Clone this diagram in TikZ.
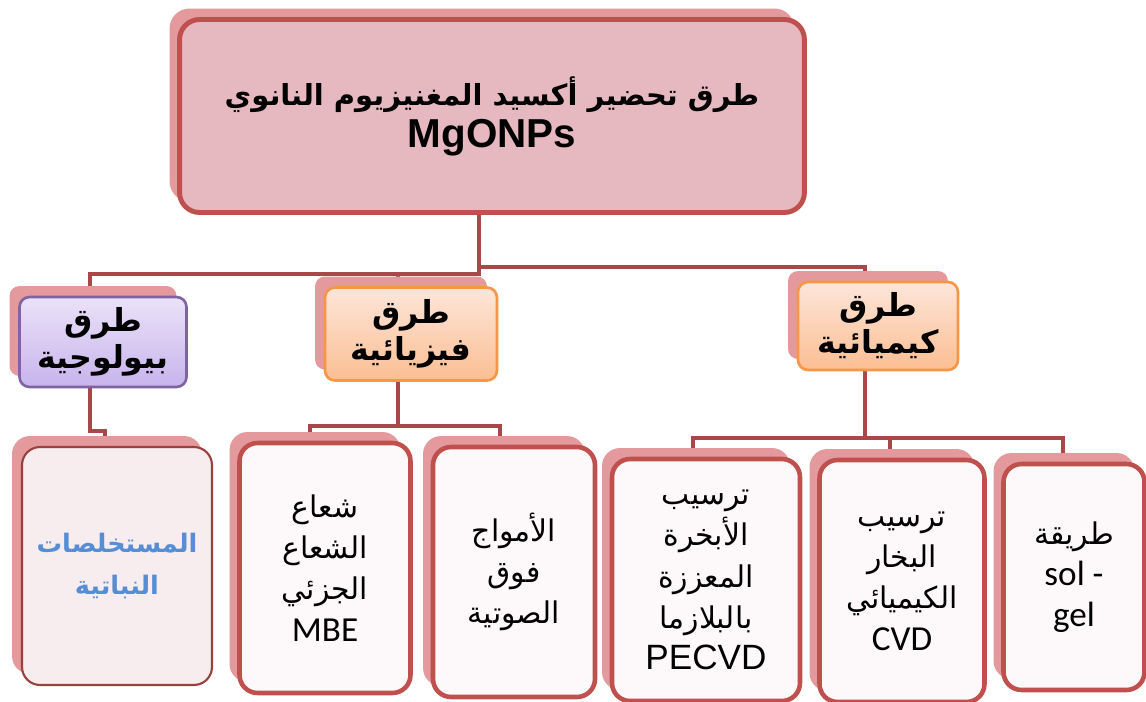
\documentclass[tikz,border=0pt]{standalone}
\usepackage{fontspec}
\setmainfont{Liberation Sans}
\newfontfamily\arabicfont[Script=Arabic]{DejaVu Sans}
\newfontfamily\calibrifont{Carlito}
\TeXXeTstate=1
\usepackage{tikz}
\usetikzlibrary{shadows, backgrounds}

\definecolor{boxred}{HTML}{C0504D}
\definecolor{linkred}{HTML}{A94749}
\definecolor{rootfill}{HTML}{E6B8C0}
\definecolor{shadowpink}{HTML}{E49A9D}
\definecolor{techfill}{HTML}{FDF9FA}
\definecolor{plantfill}{HTML}{F7ECEE}
\definecolor{plantblue}{HTML}{558ED5}
\definecolor{orangeline}{HTML}{F79646}
\definecolor{peachtop}{HTML}{FDE6DA}
\definecolor{peachbot}{HTML}{FBBE92}
\definecolor{purpleline}{HTML}{8064A2}
\definecolor{lavtop}{HTML}{EAE2F9}
\definecolor{lavbot}{HTML}{C8B4EC}

\newcommand{\artxt}[1]{{\arabicfont\beginR #1\endR}}
\newcommand{\lattxt}[1]{{\fontsize{20}{23.5}\selectfont #1}}

\begin{document}
\begin{tikzpicture}[x=0.02cm, y=-0.02cm,
        backglow/.style={general shadow={fill=shadowpink, shadow xshift=-0.2cm, shadow yshift=0.22cm}},
        rootbox/.style={draw=boxred, line width=2.8pt, fill=rootfill, rounded corners=0.4cm, backglow, align=center, font=\bfseries\fontsize{16.5}{24}\selectfont},
        methodbox/.style={draw=orangeline, line width=1.5pt, rounded corners=0.2cm, top color=peachtop, bottom color=peachbot, backglow, align=center, font=\bfseries\fontsize{18}{21}\selectfont},
        biobox/.style={methodbox, draw=purpleline, top color=lavtop, bottom color=lavbot},
        techbox/.style={draw=boxred, line width=2.6pt, fill=techfill, rounded corners=0.36cm, backglow, align=center, font=\fontsize{17}{23.5}\selectfont},
        plantbox/.style={techbox, draw=boxred!80!black, line width=1.2pt, fill=plantfill, text=plantblue, font=\bfseries\fontsize{14.5}{24}\selectfont},
        link/.style={draw=linkred, line width=2.3pt}
    ]
    \useasboundingbox (0,0) rectangle (1146,702);

    \node[rootbox, minimum width=12.5cm, minimum height=3.86cm] (root) at (492,116) {\artxt{طرق تحضير أكسيد المغنيزيوم النانوي}\\{\fontsize{23}{24}\selectfont MgONPs}};

    \node[biobox, minimum width=3.34cm, minimum height=1.8cm] (bio) at (103,342) {\artxt{طرق}\\\artxt{بيولوجية}};
    \node[methodbox, minimum width=3.44cm, minimum height=1.86cm] (phys) at (411,334) {\artxt{طرق}\\\artxt{فيزيائية}};
    \node[methodbox, minimum width=3.2cm, minimum height=1.76cm] (chem) at (878,326) {\artxt{طرق}\\\artxt{كيميائية}};

    \node[plantbox, minimum width=3.8cm, minimum height=4.76cm] (plant) at (117,566) {\artxt{المستخلصات}\\\artxt{النباتية}};
    \node[techbox, minimum width=3.42cm, minimum height=5cm] (mbe) at (325,568) {\artxt{شعاع}\\\artxt{الشعاع}\\\artxt{الجزئي}\\\lattxt{\calibrifont MBE}};
    \node[techbox, minimum width=3.24cm, minimum height=5cm] (ultra) at (514,572) {\artxt{الأمواج}\\\artxt{فوق}\\\artxt{الصوتية}};
    \node[techbox, minimum width=3.76cm, minimum height=4.84cm] (pecvd) at (706,580) {\artxt{ترسيب}\\\artxt{الأبخرة}\\\artxt{المعززة}\\\artxt{بالبلازما}\\\lattxt{PECVD}};
    \node[techbox, minimum width=3.3cm, minimum height=4.84cm] (cvd) at (902,581) {\artxt{ترسيب}\\\artxt{البخار}\\\artxt{الكيميائي}\\\lattxt{\calibrifont CVD}};
    \node[techbox, minimum width=2.82cm, minimum height=4.52cm] (solgel) at (1074,577) {\artxt{طريقة}\\\lattxt{\calibrifont sol -}\\\lattxt{\calibrifont gel}};

    \begin{scope}[on background layer]
        \draw[link] ([xshift=-0.26cm]root.south) -- ++(0,52) -| ([xshift=-0.26cm]chem.north);
        \draw[link] ([xshift=-0.26cm]root.south) -- ++(0,59) -| ([xshift=-0.26cm]phys.north);
        \draw[link] ([xshift=-0.26cm]root.south) -- ++(0,59) -| ([xshift=-0.26cm]bio.north);

        \draw[link] ([xshift=-0.26cm]bio.south) -- ++(0,43) -| ([xshift=-0.24cm]plant.north);

        \draw[link] ([xshift=-0.26cm]phys.south) -- ++(0,44) -| ([xshift=-0.3cm]mbe.north);
        \draw[link] ([xshift=-0.26cm]phys.south) -- ++(0,44) -| ([xshift=-0.28cm]ultra.north);

        \draw[link] ([xshift=-0.26cm]chem.south) -- ++(0,67) -| ([xshift=-0.26cm]pecvd.north);
        \draw[link] ([xshift=-0.26cm]chem.south) -- ++(0,67) -| ([xshift=-0.24cm]cvd.north);
        \draw[link] ([xshift=-0.26cm]chem.south) -- ++(0,67) -| ([xshift=-0.22cm]solgel.north);
    \end{scope}
\end{tikzpicture}
\end{document}
